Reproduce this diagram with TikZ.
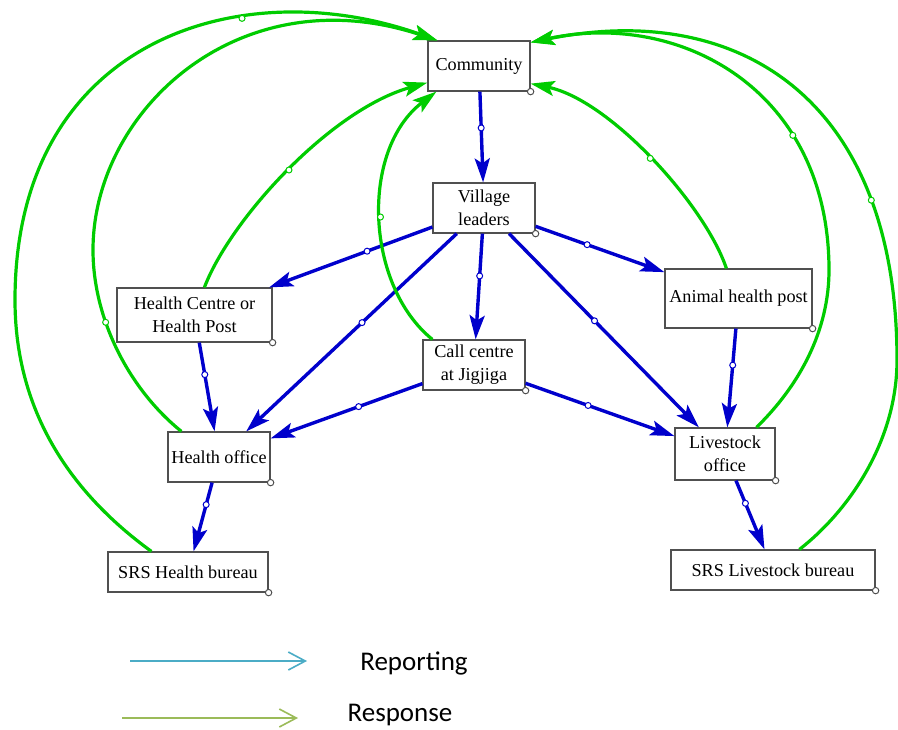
\documentclass[tikz,border=0pt]{standalone}
\usepackage{fontspec}
\setmainfont{Liberation Serif}
\newfontfamily\legendfont{Carlito}
\usetikzlibrary{arrows.meta, positioning}
\definecolor{repblue}{RGB}{0,0,204}
\definecolor{respgreen}{RGB}{0,204,0}
\definecolor{legblue}{RGB}{75,172,198}
\definecolor{leggreen}{RGB}{155,187,89}
\definecolor{boxgray}{RGB}{80,80,80}

\tikzset{
  unit/.style={draw=boxgray, line width=0.6pt, fill=white, align=center, inner sep=1pt,
    font=\fontsize{9.1}{11.5}\selectfont},
  report/.style={draw=repblue, line width=1.7pt, -{Stealth[length=12pt, width=7.5pt, inset=2.5pt]}},
  respond/.style={draw=respgreen, line width=1.6pt, -{Stealth[length=12pt, width=7.5pt, inset=2.5pt]}},
  waydot/.style={circle, inner sep=0pt, minimum size=3pt, fill=white, draw=#1, line width=0.5pt},
  legline/.style={draw=#1, line width=0.8pt, -{Straight Barb[length=8.5pt, width=9pt]}},
  legtext/.style={font=\legendfont\fontsize{13.5}{16}\selectfont}
}

\begin{document}
\begin{tikzpicture}[x=0.5pt, y=-0.5pt]
        \useasboundingbox (0,0) rectangle (898,729);

        % Units
        \node[unit, minimum width=51pt, minimum height=25pt] (comm) at (479,66) {Community};
        \node[unit, minimum width=51pt, minimum height=25pt] (vill) at (484,208) {Village\\leaders};
        \node[unit, minimum width=77.5pt, minimum height=27pt] (hcp) at (194.5,315) {Health Centre or\\Health Post};
        \node[unit, minimum width=51pt, minimum height=25pt] (call) at (474,365) {Call centre\\at Jigjiga};
        \node[unit, minimum width=73.5pt, minimum height=29.5pt] (ahp) at (738.5,298.5) {Animal health post};
        \node[unit, minimum width=51pt, minimum height=25pt] (hoff) at (219,457) {Health office};
        \node[unit, minimum width=50pt, minimum height=26pt] (loff) at (725,454) {Livestock\\office};
        \node[unit, minimum width=80pt, minimum height=20pt] (srsh) at (188,572) {SRS Health bureau};
        \node[unit, minimum width=102pt, minimum height=20pt] (srsl) at (773,570) {SRS Livestock bureau};

        % corner handles
        \foreach \n in {comm,vill,hcp,call,ahp,hoff,loff,srsh,srsl}
            \draw[draw=boxgray, fill=white, line width=0.5pt] (\n.south east) circle (1.6pt);

        % Reporting
        \draw[report] (comm) -- (vill) node[pos=0.4, waydot=repblue] {};
        \draw[report] (vill) -- (hcp) node[pos=0.4, waydot=repblue] {};
        \draw[report] (vill) -- (hoff) node[pos=0.45, waydot=repblue] {};
        \draw[report] (vill) -- (call) node[pos=0.4, waydot=repblue] {};
        \draw[report] (vill) -- (loff) node[pos=0.45, waydot=repblue] {};
        \draw[report] (vill) -- (ahp) node[pos=0.4, waydot=repblue] {};
        \draw[report] (hcp) -- (hoff) node[pos=0.36, waydot=repblue] {};
        \draw[report] (call) -- (hoff) node[pos=0.42, waydot=repblue] {};
        \draw[report] (call) -- (loff) node[pos=0.42, waydot=repblue] {};
        \draw[report] (ahp) -- (loff) node[pos=0.37, waydot=repblue] {};
        \draw[report] (hoff) -- (srsh) node[pos=0.32, waydot=repblue] {};
        \draw[report] (loff) -- (srsl) node[pos=0.33, waydot=repblue] {};

        % Response
        \draw[respond] ([xshift=22pt]srsh.north west) .. controls (60,485) and (15,400) .. (15,300)
            .. controls (15,40) and (240,-30) .. ([xshift=5pt]comm.north west) node[pos=0.67, waydot=respgreen] {};
        \draw[respond] ([xshift=7pt]hoff.north west) .. controls (130,390) and (93,320) .. (93,250) node[pos=0.65, waydot=respgreen] {}
            .. controls (93,110) and (240,-25) .. ([xshift=5pt]comm.north west);
        \draw[respond] ([xshift=44pt]hcp.north west) .. controls (230,220) and (330,110) .. ([yshift=4.5pt]comm.south west) node[pos=0.5, waydot=respgreen] {};
        \draw[respond] ([xshift=5pt]call.north west) .. controls (365,285) and (360,150) .. ([xshift=4.5pt]comm.south west) node[pos=0.5, waydot=respgreen] {};
        \draw[respond] ([xshift=31pt]ahp.north west) .. controls (705,205) and (610,100) .. ([yshift=4pt]comm.south east) node[pos=0.5, waydot=respgreen] {};
        \draw[respond] ([xshift=41pt]loff.north west) .. controls (800,385) and (829,330) .. (829,270)
            .. controls (829,90) and (680,10) .. ([yshift=-1pt]comm.north east) node[pos=0.3, waydot=respgreen] {};
        \draw[respond] ([xshift=64.5pt]srsl.north west) .. controls (850,510) and (897,440) .. (897,360)
            .. controls (897,100) and (740,0) .. ([yshift=-1pt]comm.north east) node[pos=0.24, waydot=respgreen] {};

        % Legend
        \coordinate (repA) at (130,661);
        \coordinate (repB) at (307,661);
        \draw[legline=legblue] (repA) -- (repB);
        \node[legtext] (reptext) at (414,663) {Reporting};
        \coordinate (resA) at (122,718);
        \coordinate (resB) at (298,718);
        \draw[legline=leggreen] (resA) -- (resB);
        \node[legtext] (restext) at (400,715) {Response};

    \end{tikzpicture}
\end{document}
